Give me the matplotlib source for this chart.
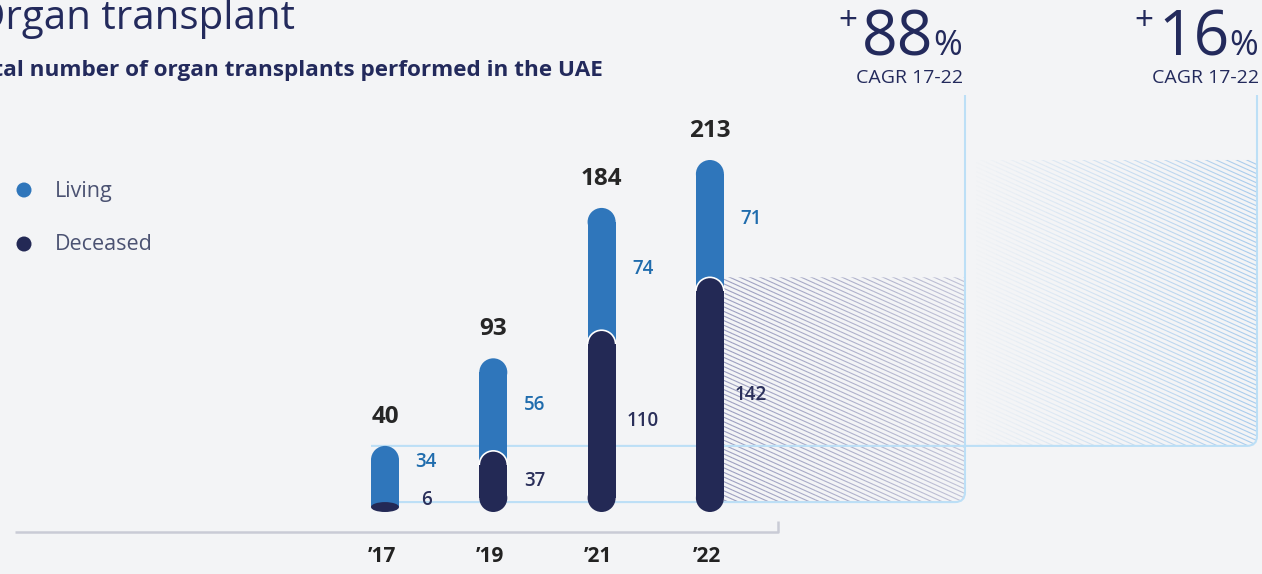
import numpy as np
import matplotlib.pyplot as plt
from matplotlib.patches import Rectangle, Ellipse, PathPatch
from matplotlib.path import Path
from matplotlib.collections import LineCollection

# data
years = ["’17", "’19", "’21", "’22"]
living = [34, 56, 74, 71]
deceased = [6, 37, 110, 142]
totals = [40, 93, 184, 213]
series_names = ["Living", "Deceased"]
cagr_values = ["88", "16"]
cagr_label = "CAGR 17-22"

LIVING = '#2f76bb'
DECEASED = '#232955'
NAVY = '#232a5c'
LIV_TXT = '#1f6cad'
DEC_TXT = '#2a2f5a'
BOX = '#bcdff6'
BG = '#f3f4f6'

W, H = 1262, 574
fig = plt.figure(figsize=(W / 100, H / 100), dpi=100)
fig.patch.set_facecolor(BG)
ax = fig.add_axes([0, 0, 1, 1])
ax.set_facecolor(BG)
ax.axis('off')

# layout: pixel position of category 0 / value 0 and scale
X0, DX = 385, 108.3
Y0, SY = 512, 1.6526
ax.set_xlim((0 - X0) / DX, (W - X0) / DX)
ax.set_ylim((Y0 - H) / SY, Y0 / SY)


def px(xp):
    return (xp - X0) / DX


def py(yp):
    return (Y0 - yp) / SY


def ftext(xp, yp, s, **kw):
    fig.text(xp / W, 1 - yp / H, s, **kw)


BW = 28                      # bar width in pixels
w = BW / DX
ry = (BW / 2) / SY           # cap radius in value units
x = np.arange(len(years))


def rounded_path(xl, xr, yb, yt, rc=10, closed=False):
    rcx, rcy = rc / DX, rc / SY
    verts = [(xr, yt), (xr, yb + rcy), (xr, yb), (xr - rcx, yb), (xl, yb)]
    codes = [Path.MOVETO, Path.LINETO, Path.CURVE3, Path.CURVE3, Path.LINETO]
    if closed:
        verts += [(xl, yt), (xr, yt)]
        codes += [Path.LINETO, Path.CLOSEPOLY]
    return Path(verts, codes)


def hatch(xl_p, xr_p, yt_p, yb_p, color, a0, a1, clip, slope=0.45, step=4.6):
    segs, cols = [], []
    rgb = np.array(plt.matplotlib.colors.to_rgb(color))
    xs = np.linspace(xl_p, xr_p, 30)
    for c in np.arange(yt_p - slope * (xr_p - xl_p), yb_p + step, step):
        ys = c + slope * (xs - xl_p)
        for i in range(len(xs) - 1):
            segs.append([(px(xs[i]), py(ys[i])), (px(xs[i + 1]), py(ys[i + 1]))])
            f = (xs[i] - xl_p) / (xr_p - xl_p)
            cols.append((*rgb, a0 + (a1 - a0) * f))
    lc = LineCollection(segs, colors=cols, linewidths=0.8, zorder=1)
    ax.add_collection(lc)
    lc.set_clip_path(clip)


# CAGR boxes
box_left = x[0] - w / 2
box1_r, box2_r, box_top = px(965), px(1257), py(95)

clip1 = PathPatch(rounded_path(x[-1] + w / 2, box1_r, deceased[0], deceased[-1], closed=True),
                  transform=ax.transData, facecolor='none', edgecolor='none')
ax.add_patch(clip1)
hatch(X0 + DX * x[-1] + BW / 2, 965, Y0 - deceased[-1] * SY, Y0 - deceased[0] * SY,
      '#777aa9', 0.7, 0.4, clip1)

clip2 = PathPatch(rounded_path(box1_r, box2_r, totals[0], totals[-1], closed=True),
                  transform=ax.transData, facecolor='none', edgecolor='none')
ax.add_patch(clip2)
hatch(966, 1257, Y0 - totals[-1] * SY, Y0 - totals[0] * SY,
      '#8dbde9', 0.0, 0.75, clip2)

for xr, yb in [(box1_r, deceased[0]), (box2_r, totals[0])]:
    ax.add_patch(PathPatch(rounded_path(box_left, xr, yb, box_top),
                           facecolor='none', edgecolor=BOX, lw=1.5, zorder=1.5))

# baseline
ax.plot([px(15), px(778), px(778)], [py(532), py(532), py(521)],
        color='#c9cbd6', lw=1.8, solid_capstyle='butt', zorder=1)

# bars
for xi, d, l, t in zip(x, deceased, living, totals):
    # living: flat bottom hidden behind deceased, round top
    ax.add_patch(Rectangle((xi - w / 2, d / 2), w, t - ry - d / 2,
                           facecolor=LIVING, edgecolor='none', zorder=3))
    ax.add_patch(Ellipse((xi, t - ry), w, 2 * ry, facecolor=LIVING,
                         edgecolor='none', zorder=3))
    if d >= 2 * ry:
        ax.add_patch(Ellipse((xi, d - ry), w, 2 * ry, facecolor=DECEASED,
                             edgecolor='white', lw=1.2, zorder=4))
        ax.add_patch(Ellipse((xi, ry), w, 2 * ry, facecolor=DECEASED,
                             edgecolor='none', zorder=4))
        ax.add_patch(Rectangle((xi - w / 2, ry), w, d - 2 * ry,
                               facecolor=DECEASED, edgecolor='none', zorder=4.5))
    else:
        ax.add_patch(Ellipse((xi, d / 2), w, d, facecolor=DECEASED,
                             edgecolor='none', zorder=4))

    # labels
    ax.text(xi, t + 17.5, str(t), ha='center', va='center', fontsize=17.5,
            fontweight='bold', color='#262626', family='Open Sans')
    dy = max(d / 2, 7.5)
    ly = max(d + l / 2, dy + 23)
    ax.text(xi + 0.38, ly, str(l), ha='center', va='center', fontsize=13.5,
            fontweight='semibold', color=LIV_TXT, family='Open Sans')
    ax.text(xi + 0.38, dy, str(d), ha='center', va='center', fontsize=13.5,
            fontweight='semibold', color=DEC_TXT, family='Open Sans')
    ax.text(xi - 0.03, py(557), years[xi], ha='center', va='center', fontsize=15,
            fontweight='bold', color='#222222', family='Open Sans')

# legend
for yp, name, col in [(190, series_names[0], LIVING), (244, series_names[1], DECEASED)]:
    ax.add_patch(Ellipse((px(24), py(yp)), 15 / DX, 15 / SY,
                         facecolor=col, edgecolor='none', zorder=5))
    ftext(55, yp + 1, name, ha='left', va='center', fontsize=15.5, color='#4b5272',
          family='Open Sans')

# titles
ftext(295, 29, "Organ transplant", ha='right', va='baseline', fontsize=29,
      color=NAVY, family='Open Sans')
ftext(603, 76, "Total number of organ transplants performed in the UAE",
      ha='right', va='baseline', fontsize=16.2, fontweight='bold', color=NAVY,
      family='Open Sans')

# CAGR figures
for (cx, val) in zip([898, 1194], cagr_values):
    ftext(cx, 55, val, ha='center', va='baseline', fontsize=45, color=NAVY,
          family='Open Sans')
    ftext(cx + 35, 55, "%", ha='left', va='baseline', fontsize=25, color=NAVY,
          family='Open Sans')
    ftext(cx - 50, 21, "+", ha='center', va='center', fontsize=24, color=NAVY,
          family='Open Sans')
    ftext(cx + 12, 78, cagr_label, ha='center', va='center', fontsize=14,
          color=NAVY, family='Open Sans')

fig.savefig('out.png', dpi=100, facecolor=BG)
